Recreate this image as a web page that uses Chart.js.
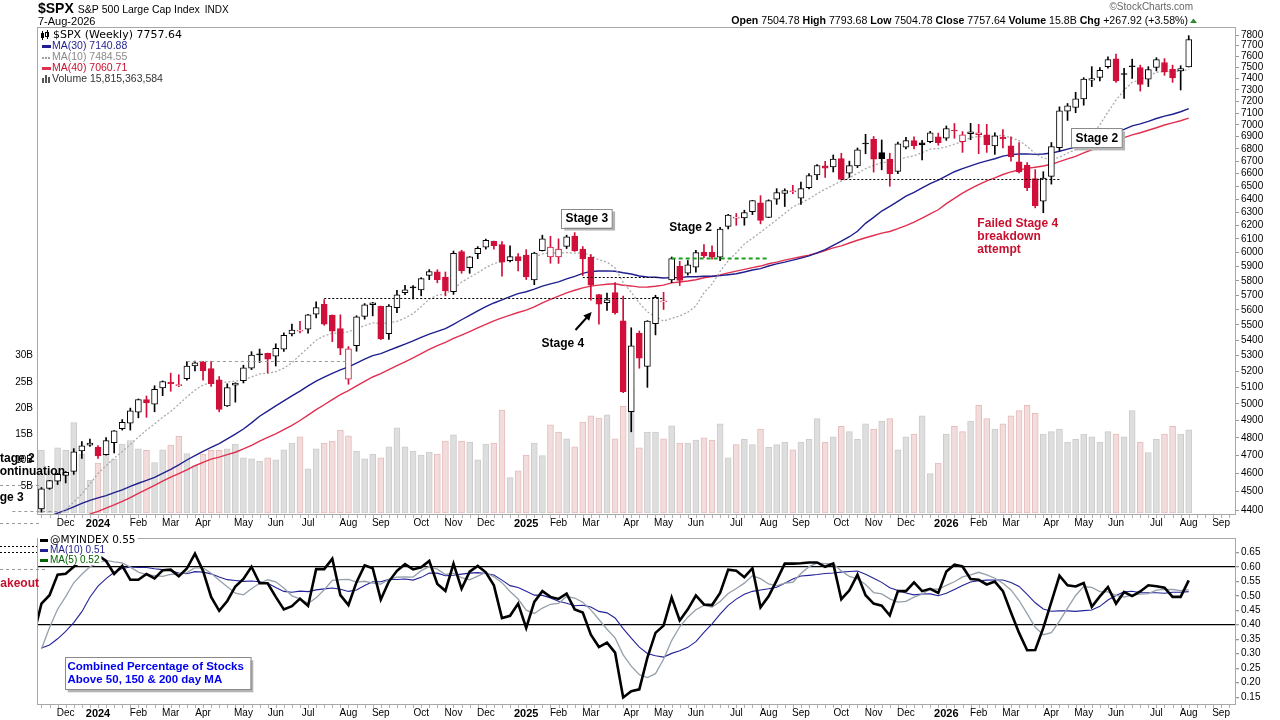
<!DOCTYPE html>
<html><head><meta charset="utf-8"><title>$SPX Weekly</title>
<script src="https://cdn.jsdelivr.net/npm/chart.js@4.4.1/dist/chart.umd.min.js"></script>
<style>
html,body{margin:0;padding:0;background:#fff;overflow:hidden;width:1280px;height:720px}
canvas{position:absolute;left:0}
#c1{top:0}
#c2{top:530px}
</style></head><body>
<canvas id="c1" width="1280" height="530"></canvas>
<canvas id="c2" width="1280" height="190"></canvas>
<script>
// ---------------- DATA ----------------
const firstWeekFriday = '2023-11-17';
const opens = [
4406,4516,4555,4587,4610,4725,4758,4745,4703,4772,
4853,4886,4950,5026,4998,5098,5132,5112,5154,5235,
5257,5218,5148,4988,5114,5142,5221,5305,5315,5297,
5341,5441,5459,5471,5572,5638,5565,5476,5151,5364,
5557,5636,5624,5442,5615,5718,5758,5737,5838,5863,
5826,5725,6008,5893,5992,6040,6083,6058,5942,5971,
5982,5806,6014,5969,5970,6046,6121,6026,5968,5705,
5650,5718,5527,4953,5445,5232,5508,5655,5807,5902,
5854,5896,6004,6005,5967,6193,6255,6256,6304,6371,
6260,6400,6445,6457,6408,6490,6590,6662,6654,6720,
6604,6662,6845,6879,6769,6717,6618,6813,6868,6850,
6860,6900,6887,6952,6860,6925,6917,6916,6824,6897,
6824,6694,6669,6560,6385,6578,6810,7116,7147,7222,
7387,7411,7507,7580,7440,7510,7500,7396,7500,7546,
7484,7470,7504.78];
const highs = [
4521,4560,4599,4609,4738,4778,4793,4755,4802,4842,
4907,4975,5030,5048,5111,5141,5189,5179,5262,5265,
5263,5264,5168,5123,5129,5239,5325,5342,5316,5376,
5447,5505,5523,5570,5655,5670,5566,5567,5358,5561,
5643,5651,5626,5637,5734,5768,5767,5822,5879,5878,
5862,6012,6018,5972,6044,6099,6085,6080,6049,5993,
6022,6003,6128,6120,6101,6128,6147,6044,5986,5707,
5715,5787,5695,5481,5460,5528,5700,5720,5969,5938,
5944,6017,6059,6050,6187,6284,6290,6315,6390,6427,
6395,6481,6480,6508,6533,6600,6672,6699,6750,6764,
6700,6807,6920,6902,6873,6764,6855,6895,6900,6870,
6945,6930,6990,7011,6943,7012,7004,7004,6933,6960,
6900,6851,6689,6632,6615,6852,7153,7182,7280,7409,
7508,7500,7597,7623,7494,7576,7522,7508,7590,7581,
7522,7517,7793.68];
const lows = [
4389,4511,4537,4546,4593,4682,4751,4682,4700,4714,
4845,4845,4917,4920,4953,5050,5077,5105,5146,5203,
5146,5107,4953,4985,5011,5128,5211,5256,5191,5234,
5327,5428,5447,5446,5547,5497,5390,5306,5120,5328,
5538,5560,5403,5404,5582,5704,5674,5696,5808,5786,
5696,5706,5853,5853,5957,6026,6025,5832,5933,5869,
5809,5773,6012,5924,5923,6030,6009,5837,5666,5505,
5597,5572,5069,4835,5220,5101,5434,5603,5787,5767,
5840,5861,5964,5953,5943,6174,6201,6202,6282,6212,
6259,6360,6343,6443,6360,6480,6551,6569,6613,6550,
6570,6648,6760,6612,6630,6500,6600,6800,6800,6709,
6850,6830,6870,6887,6771,6875,6761,6771,6755,6807,
6700,6605,6465,6333,6296,6517,6782,7037,7103,7167,
7330,7380,7494,7367,7227,7402,7290,7330,7470,7430,
7367,7300,7504.78];
const closes = [
4514,4559,4594,4604,4719,4754,4770,4697,4784,4840,
4891,4959,5027,5006,5089,5137,5124,5117,5234,5254,
5204,5123,4967,5100,5128,5223,5303,5305,5278,5347,
5431,5465,5460,5567,5615,5505,5459,5347,5344,5554,
5634,5648,5408,5626,5703,5738,5751,5815,5864,5808,
5729,5996,5871,5970,6032,6090,6051,5931,5971,5942,
5827,5997,6101,6041,6026,6115,6013,5955,5770,5639,
5668,5581,5074,5363,5283,5525,5686,5660,5958,5803,
5912,6000,5977,5968,6173,6279,6260,6297,6389,6238,
6389,6450,6467,6460,6482,6584,6664,6644,6716,6553,
6664,6792,6840,6716,6720,6599,6842,6868,6826,6832,
6933,6851,6969,6948,6916,6941,6933,6834,6908,6881,
6736,6613,6490,6349,6565,6819,7118,7162,7222,7396,
7402,7475,7573,7381,7437,7507,7348,7482,7573,7460,
7407,7489.72,7757.64];
// weekly volume, billions
const volumesB = [
11.9,8.0,12.4,11.9,17.2,11.2,6.2,9.5,11.2,10.2,
13.1,13.8,12.2,11.9,9.6,12.0,12.9,14.6,11.3,9.0,
11.2,11.9,11.9,12.2,13.1,10.5,10.3,9.8,10.5,10.1,
12.0,13.3,14.5,8.4,12.2,13.3,13.7,15.8,14.7,11.8,
10.3,11.2,10.5,12.6,16.2,12.6,11.8,11.0,11.6,11.2,
13.7,14.9,13.7,13.5,10.1,13.1,13.3,19.6,6.7,8.0,
11.0,13.3,10.9,16.8,15.4,14.1,12.6,17.3,18.5,18.1,
18.7,14.1,20.3,23.8,12.4,15.4,15.4,14.1,16.6,13.3,
13.3,13.9,14.3,13.9,17.0,10.5,13.0,14.0,13.0,16.0,
12.5,13.0,13.5,12.0,13.5,14.0,18.0,13.5,14.5,16.5,
15.5,14.0,17.0,16.0,17.5,18.0,12.0,14.5,15.0,18.5,
7.5,9.5,15.0,16.5,15.5,17.5,20.5,18.0,16.0,17.0,
18.5,19.5,20.5,19.0,15.0,15.5,16.0,13.5,14.0,15.0,
14.5,13.5,15.5,15.0,14.5,19.5,13.5,11.5,14.0,15.0,
16.5,15.0,15.815];
// closes of the 39 weeks before the first bar (for the moving averages)
const priorCloses = [4079,3970,4045,3861,3917,3971,4109,4105,4138,4133,
4169,4136,4124,4192,4205,4282,4299,4410,4348,4450,
4399,4505,4536,4582,4478,4464,4370,4406,4516,4457,
4450,4320,4288,4309,4327,4224,4117,4358,4415];
// @MYINDEX weekly values
const breadth = [
0.473,0.502,0.573,0.576,0.600,0.620,0.630,0.640,0.620,0.575,
0.603,0.555,0.555,0.575,0.560,0.588,0.590,0.567,0.594,0.645,
0.586,0.496,0.448,0.482,0.532,0.558,0.600,0.543,0.543,0.496,
0.453,0.464,0.490,0.465,0.592,0.592,0.628,0.502,0.468,0.547,
0.605,0.595,0.487,0.549,0.586,0.609,0.591,0.598,0.620,0.541,
0.517,0.611,0.524,0.583,0.603,0.581,0.536,0.423,0.431,0.473,
0.389,0.479,0.516,0.496,0.489,0.507,0.453,0.442,0.366,0.323,
0.338,0.304,0.149,0.171,0.177,0.287,0.372,0.397,0.494,0.415,
0.453,0.501,0.470,0.468,0.510,0.590,0.586,0.564,0.595,0.460,
0.498,0.553,0.611,0.611,0.612,0.615,0.615,0.600,0.611,0.488,
0.519,0.573,0.502,0.473,0.466,0.432,0.516,0.516,0.546,0.516,
0.524,0.510,0.584,0.607,0.601,0.558,0.555,0.539,0.549,0.516,
0.442,0.372,0.312,0.313,0.389,0.479,0.569,0.536,0.532,0.544,
0.462,0.498,0.530,0.473,0.513,0.499,0.515,0.536,0.533,0.528,
0.496,0.496,0.553];
const priorBreadth = [0.40,0.36,0.32,0.30,0.24,0.13,0.257,0.36,0.36];
// tick labels
const priceTicks = [4400,4500,4600,4700,4800,4900,5000,5100,5200,5300,5400,5500,5600,5700,5800,5900,6000,6100,6200,6300,6400,6500,6600,6700,6800,6900,7000,7100,7200,7300,7400,7500,7600,7700,7800];
const volumeTicks = [5,10,15,20,25,30];
const breadthTicks = [0.15,0.20,0.25,0.30,0.35,0.40,0.45,0.50,0.55,0.60,0.65];
const monthNames = ['Jan','Feb','Mar','Apr','May','Jun','Jul','Aug','Sep','Oct','Nov','Dec'];

// ---------------- helpers ----------------
const F = '"Liberation Sans", Arial, sans-serif';
const DV = '"DejaVu Sans", Verdana, sans-serif';
const RED = '#d0103a', NAVY = '#1f1f8f', MARED = '#e0304f';
const N = closes.length;
const LAST_SLOT = 147;
const XMIN = -0.55, XMAX = 147.85;
const DAY = 86400000;
const t0 = Date.parse(firstWeekFriday + 'T00:00:00Z');

function sma(prior, vals, n) {
  const all = prior.concat(vals);
  return vals.map((_, i) => {
    const k = i + prior.length; let s = 0;
    for (let j = k - n + 1; j <= k; j++) s += all[j];
    return s / n;
  });
}
const ma10 = sma(priorCloses, closes, 10);
const ma30 = sma(priorCloses, closes, 30);
const ma40 = sma(priorCloses, closes, 40);
const bMa5 = sma(priorBreadth, breadth, 5);
const bMa10 = sma(priorBreadth, breadth, 10);

const prevClose = i => i === 0 ? priorCloses[priorCloses.length - 1] : closes[i - 1];
const isUp = closes.map((c, i) => c >= prevClose(i));
const cColor = isUp.map(u => u ? '#000000' : RED);
const bodyFill = closes.map((c, i) => c > opens[i] ? '#ffffff' : cColor[i]);
const volFill = isUp.map(u => u ? '#dedede' : '#f2dcdc');
const volBorder = isUp.map(u => u ? '#cccccc' : '#e6bcbc');

// month labels: bar dated by its Monday for real weeks, by Friday for empty future slots
const monthTicks = [];
(function () {
  let prev = null;
  for (let i = 0; i <= LAST_SLOT; i++) {
    const fri = t0 + i * 7 * DAY;
    const d = new Date(i < N ? fri - 4 * DAY : fri);
    const m = d.getUTCMonth();
    if (prev !== null && m !== prev) monthTicks.push({ value: i, label: m === 0 ? String(d.getUTCFullYear()) : monthNames[m], year: m === 0 });
    prev = m;
  }
})();
const monthLabel = {}; const yearSet = new Set();
monthTicks.forEach(t => { monthLabel[t.value] = t.label; if (t.year) yearSet.add(t.value); });

const xScale = (h) => ({
  type: 'linear', min: XMIN, max: XMAX, offset: false, position: 'bottom',
  grid: { display: false, drawTicks: false }, border: { display: false },
  afterBuildTicks: s => { s.ticks = monthTicks.map(t => ({ value: t.value })); },
  ticks: {
    autoSkip: false, maxRotation: 0, minRotation: 0, padding: 2, color: '#000',
    font: ctx => (ctx.tick && yearSet.has(ctx.tick.value)) ? { family: F, size: 11, weight: 'bold' } : { family: F, size: 10 },
    callback: v => monthLabel[v] !== undefined ? monthLabel[v] : ''
  },
  afterFit: s => { s.height = h; }
});

// price: log scale, chart area 27..515 px
const PMIN = 4373.6, PMAX = 7875.6;
const VMIN = -0.42, VMAX = 92.71;
const BMIN = 0.1231, BMAX = 0.6993;

// annotations (index / price units)
const levelLines = [
  { from: 35, to: 77.1, price: 5682, color: '#000', dash: [2, 2], w: 1 },
  { from: 67, to: 76.5, price: 5827, color: '#000', dash: [2, 2], w: 1 },
  { from: 18, to: 38, price: 5265, color: '#999', dash: [3, 3], w: 1 },
  { from: 99, to: 126, price: 6560, color: '#000', dash: [2, 2], w: 1 },
  { from: 78, to: 90, price: 5960, color: '#1e9e1e', dash: [4, 3], w: 2 },
  { from: -3.6, to: 2.2, price: 4395, color: '#999', dash: [3, 3], w: 1 }
];
const notes = [
  { text: 'Stage 3', i: 64.85, p: 6256, box: true, color: '#000' },
  { text: 'Stage 4', i: 61.9, p: 5381, color: '#000' },
  { text: 'Stage 2', i: 77.7, p: 6188, color: '#000' },
  { text: 'Stage 2', i: 127.97, p: 6890, box: true, color: '#000' },
  { text: 'Failed Stage 4', i: 115.84, p: 6219, color: '#c8102e' },
  { text: 'breakdown', i: 115.84, p: 6122, color: '#c8102e' },
  { text: 'attempt', i: 115.84, p: 6027, color: '#c8102e' }
];
const arrow = { i0: 66.1, p0: 5466, i1: 68.1, p1: 5586 };

function weeklyTicks(chart) {
  const { ctx, chartArea: a } = chart; const x = chart.scales.x;
  ctx.save(); ctx.strokeStyle = '#b0b0b0'; ctx.lineWidth = 1; ctx.beginPath();
  for (let i = 0; i <= LAST_SLOT; i++) { const px = Math.round(x.getPixelForValue(i)) + 0.5; ctx.moveTo(px, a.bottom); ctx.lineTo(px, a.bottom + 3); }
  ctx.stroke();
  ctx.strokeStyle = '#a8a8a8';
  ctx.strokeRect(a.left + 0.5, a.top + 0.5, a.right - a.left - 1, a.bottom - a.top - 1);
  ctx.restore();
}
function boxed(ctx, x, yc, w, h) {
  ctx.fillStyle = '#b4b4b4'; ctx.fillRect(x + 3, yc - h / 2 + 3, w, h);
  ctx.fillStyle = '#fff'; ctx.fillRect(x, yc - h / 2, w, h);
  ctx.strokeStyle = '#8a8a8a'; ctx.lineWidth = 1; ctx.strokeRect(Math.round(x) + 0.5, Math.round(yc - h / 2) + 0.5, w, h);
}
function dashLine(ctx, x0, x1, y, color, dash, w) {
  ctx.save(); ctx.strokeStyle = color; ctx.lineWidth = w || 1; ctx.setLineDash(dash);
  ctx.beginPath(); ctx.moveTo(x0, y); ctx.lineTo(x1, y); ctx.stroke(); ctx.restore();
}

const topPlugin = {
  id: 'topDecor',
  afterDraw(chart) {
    const { ctx } = chart; const x = chart.scales.x, y = chart.scales.y;
    weeklyTicks(chart);
    ctx.save();
    levelLines.forEach(l => {
      const yy = Math.round(y.getPixelForValue(l.price)) + 0.5;
      dashLine(ctx, x.getPixelForValue(l.from), x.getPixelForValue(l.to), yy, l.color, l.dash, l.w);
    });
    dashLine(ctx, 0, 40, 485.5, '#999', [3, 3], 1);
    dashLine(ctx, 0, 40, 523.5, '#999', [3, 3], 1);
    // arrow
    const ax0 = x.getPixelForValue(arrow.i0), ay0 = y.getPixelForValue(arrow.p0);
    const ax1 = x.getPixelForValue(arrow.i1), ay1 = y.getPixelForValue(arrow.p1);
    const ang = Math.atan2(ay1 - ay0, ax1 - ax0);
    ctx.strokeStyle = '#000'; ctx.lineWidth = 2; ctx.beginPath(); ctx.moveTo(ax0, ay0);
    ctx.lineTo(ax1 - 5 * Math.cos(ang), ay1 - 5 * Math.sin(ang)); ctx.stroke();
    ctx.fillStyle = '#000'; ctx.beginPath(); ctx.moveTo(ax1, ay1);
    ctx.lineTo(ax1 - 9 * Math.cos(ang - 0.45), ay1 - 9 * Math.sin(ang - 0.45));
    ctx.lineTo(ax1 - 9 * Math.cos(ang + 0.45), ay1 - 9 * Math.sin(ang + 0.45)); ctx.closePath(); ctx.fill();
    // notes
    ctx.font = 'bold 12px ' + F; ctx.textBaseline = 'middle'; ctx.textAlign = 'left';
    notes.forEach(n => {
      const px = x.getPixelForValue(n.i), py = y.getPixelForValue(n.p);
      if (n.box) { const w = ctx.measureText(n.text).width + 8; boxed(ctx, px - 4, py, w, 19); }
      ctx.fillStyle = n.color; ctx.fillText(n.text, px, py + 0.5);
    });
    // left overflow labels (annotations cut off by the chart edge)
    ctx.fillStyle = '#000';
    ctx.fillText('Stage 2', -8, 459); ctx.fillText('continuation', -7, 472); ctx.fillText('Stage 3', -19, 498);
    // header
    ctx.textBaseline = 'middle';
    ctx.font = 'bold 14px ' + F; ctx.fillStyle = '#000'; ctx.fillText('$SPX', 38, 9);
    let hx = 38 + ctx.measureText('$SPX').width + 4;
    ctx.font = '10.5px ' + F; ctx.fillText('S&P 500 Large Cap Index', hx, 10);
    hx += ctx.measureText('S&P 500 Large Cap Index').width + 5;
    ctx.font = '10px ' + F; ctx.fillText('INDX', Math.max(203, hx), 10);
    ctx.font = '11px ' + F; ctx.fillText('7-Aug-2026', 38, 21.5);
    ctx.font = '10px ' + F; ctx.fillStyle = '#666'; ctx.textAlign = 'right'; ctx.fillText('\u00A9StockCharts.com', 1193, 7.5);
    const L = N - 1, chg = closes[L] - closes[L - 1];
    const parts = [['Open', 1], [' ' + opens[L].toFixed(2) + ' ', 0], ['High', 1], [' ' + highs[L].toFixed(2) + ' ', 0], ['Low', 1], [' ' + lows[L].toFixed(2) + ' ', 0],
      ['Close', 1], [' ' + closes[L].toFixed(2) + ' ', 0], ['Volume', 1], [' ' + volumesB[L].toFixed(1) + 'B ', 0], ['Chg', 1],
      [' ' + (chg >= 0 ? '+' : '') + chg.toFixed(2) + ' (' + (chg >= 0 ? '+' : '') + (chg / closes[L - 1] * 100).toFixed(2) + '%)', 0]];
    const hf = '10.6px ';
    let tw = 0; parts.forEach(p => { ctx.font = (p[1] ? 'bold ' : '') + hf + F; tw += ctx.measureText(p[0]).width; });
    let cx = 1188 - tw; ctx.textAlign = 'left'; ctx.fillStyle = '#000';
    parts.forEach(p => { ctx.font = (p[1] ? 'bold ' : '') + hf + F; ctx.fillText(p[0], cx, 21); cx += ctx.measureText(p[0]).width; });
    ctx.fillStyle = '#2e8b2e'; ctx.beginPath(); ctx.moveTo(1190, 23); ctx.lineTo(1197, 23); ctx.lineTo(1193.5, 18.5); ctx.closePath(); ctx.fill();
    // legend
    ctx.fillStyle = '#000';
    ctx.fillRect(42, 31, 1, 9); ctx.fillRect(41, 33, 3, 5); ctx.fillRect(47, 30, 1, 9); ctx.strokeStyle = '#000'; ctx.lineWidth = 1; ctx.strokeRect(45.5, 32.5, 3, 4);
    ctx.font = '11px ' + DV; ctx.fillText('$SPX (Weekly) 7757.64', 53, 35.5);
    const rows = [
      { y: 46, c: NAVY, tc: NAVY, t: 'MA(30) 7140.88', s: 'solid' },
      { y: 57, c: '#a0a0a0', tc: '#8a8a8a', t: 'MA(10) 7484.55', s: 'dot' },
      { y: 68, c: MARED, tc: '#c8102e', t: 'MA(40) 7060.71', s: 'solid' },
      { y: 79, c: '#555', tc: '#333', t: 'Volume 15,815,363,584', s: 'vol' }];
    ctx.font = '10.5px ' + F;
    rows.forEach(r => {
      ctx.fillStyle = r.c;
      if (r.s === 'solid') ctx.fillRect(42, r.y - 1, 9, 3);
      else if (r.s === 'dot') { ctx.fillRect(42, r.y, 2, 2); ctx.fillRect(45, r.y, 2, 2); ctx.fillRect(48, r.y, 2, 2); }
      else { ctx.fillRect(42, r.y - 1, 2, 5); ctx.fillRect(45, r.y - 4, 2, 8); ctx.fillRect(48, r.y - 2, 2, 6); }
      ctx.fillStyle = r.tc; ctx.fillText(r.t, 52, r.y + 0.5);
    });
    ctx.restore();
  }
};

const botPlugin = {
  id: 'botDecor',
  afterDraw(chart) {
    const { ctx } = chart;
    weeklyTicks(chart);
    ctx.save();
    dashLine(ctx, 0, 37, 16.5, '#000', [2, 2], 1);
    dashLine(ctx, 0, 37, 22.5, '#000', [2, 2], 1);
    dashLine(ctx, 0, 47, 39.5, '#999', [3, 3], 1);
    ctx.font = 'bold 12px ' + F; ctx.fillStyle = '#c8102e'; ctx.textBaseline = 'middle'; ctx.textAlign = 'left';
    ctx.fillText('Shakeout', -15, 54);
    // legend
    const rows = [
      { y: 10, c: '#000', t: '@MYINDEX 0.55', f: '10.5px ' + DV },
      { y: 20, c: NAVY, t: 'MA(10) 0.51', f: '10px ' + F },
      { y: 30, c: '#006400', t: 'MA(5) 0.52', f: '10px ' + F }];
    rows.forEach(r => {
      ctx.font = r.f; const w = ctx.measureText(r.t).width;
      ctx.fillStyle = '#fff'; ctx.fillRect(38, r.y - 5, w + 14, 10);
      ctx.fillStyle = r.c; ctx.fillRect(40, r.y - 1, 8, 3);
      ctx.fillText(r.t, 50, r.y + 0.5);
    });
    // text box
    const bx = 64.7, by = 127.3, bw = 185.6, bh = 32;
    boxed(ctx, bx, by + bh / 2, bw, bh);
    ctx.font = 'bold 11.5px ' + F; ctx.fillStyle = '#0000ee';
    ctx.fillText('Combined Percentage of Stocks', 67.5, 136.5);
    ctx.fillText('Above 50, 150 & 200 day MA', 67.5, 149.5);
    ctx.restore();
  }
};

// ---------------- CHARTS ----------------
Chart.defaults.font.family = F;
new Chart(document.getElementById('c1'), {
  type: 'bar',
  data: {
    datasets: [
      { type: 'bar', label: 'body', yAxisID: 'y', data: closes.map((c, i) => ({ x: i, y: [opens[i], c] })),
        backgroundColor: bodyFill, borderColor: cColor, borderWidth: 1, borderSkipped: false, barThickness: 6,
        grouped: false, minBarLength: 1, order: 0 },
      { type: 'bar', label: 'wick', yAxisID: 'y', data: closes.map((c, i) => ({ x: i, y: [lows[i], highs[i]] })),
        backgroundColor: cColor, borderWidth: 0, barThickness: 1, grouped: false, order: 1 },
      { type: 'line', label: 'MA10', yAxisID: 'y', data: ma10.map((v, i) => ({ x: i, y: v })), borderColor: '#aaaaaa',
        borderWidth: 1.3, borderDash: [2, 2], pointRadius: 0, tension: 0, order: 2 },
      { type: 'line', label: 'MA30', yAxisID: 'y', data: ma30.map((v, i) => ({ x: i, y: v })), borderColor: NAVY,
        borderWidth: 1.4, pointRadius: 0, tension: 0, order: 3 },
      { type: 'line', label: 'MA40', yAxisID: 'y', data: ma40.map((v, i) => ({ x: i, y: v })), borderColor: MARED,
        borderWidth: 1.4, pointRadius: 0, tension: 0, order: 4 },
      { type: 'bar', label: 'Volume', yAxisID: 'yv', data: volumesB.map((v, i) => ({ x: i, y: v })),
        backgroundColor: volFill, borderColor: volBorder, borderWidth: 1, borderSkipped: false, barThickness: 6, grouped: false, order: 10 }
    ]
  },
  options: {
    responsive: false, animation: false, events: [],
    layout: { padding: { top: 27, left: 0, right: 0, bottom: 0 } },
    plugins: { legend: { display: false }, tooltip: { enabled: false } },
    scales: {
      x: xScale(15),
      y: { type: 'logarithmic', position: 'right', min: PMIN, max: PMAX,
        afterBuildTicks: s => { s.ticks = priceTicks.map(v => ({ value: v })); },
        ticks: { autoSkip: false, padding: 2, color: '#000', font: { family: F, size: 10 }, callback: v => String(v) },
        grid: { drawOnChartArea: false, drawTicks: true, tickLength: 3, tickColor: '#999' }, border: { display: false },
        afterFit: s => { s.width = 44; } },
      yv: { type: 'linear', position: 'left', min: VMIN, max: VMAX,
        afterBuildTicks: s => { s.ticks = volumeTicks.map(v => ({ value: v })); },
        ticks: { autoSkip: false, padding: 4, color: '#000', font: { family: F, size: 10 }, callback: v => v + 'B' },
        grid: { display: false, drawTicks: false }, border: { display: false },
        afterFit: s => { s.width = 37; } }
    }
  },
  plugins: [topPlugin]
});

new Chart(document.getElementById('c2'), {
  type: 'line',
  data: {
    datasets: [
      { label: '@MYINDEX', data: [{ x: -1, y: priorBreadth[priorBreadth.length - 1] }].concat(breadth.map((v, i) => ({ x: i, y: v }))),
        borderColor: '#000', borderWidth: 2.6, pointRadius: 0, tension: 0, order: 0 },
      { label: 'MA5', data: bMa5.map((v, i) => ({ x: i, y: v })), borderColor: '#95a0aa', borderWidth: 1.3, pointRadius: 0, tension: 0, order: 1 },
      { label: 'MA10', data: bMa10.map((v, i) => ({ x: i, y: v })), borderColor: '#22229a', borderWidth: 1.1, pointRadius: 0, tension: 0, order: 2 }
    ]
  },
  options: {
    responsive: false, animation: false, events: [],
    layout: { padding: { top: 5, left: 37, right: 0, bottom: 0 } },
    plugins: { legend: { display: false }, tooltip: { enabled: false } },
    scales: {
      x: xScale(15),
      y: { type: 'linear', position: 'right', min: BMIN, max: BMAX,
        afterBuildTicks: s => { s.ticks = breadthTicks.map(v => ({ value: v })); },
        ticks: { autoSkip: false, padding: 2, color: '#000', font: { family: F, size: 10 }, callback: v => Number(v).toFixed(2) },
        grid: { drawOnChartArea: true, drawTicks: true, tickLength: 3, tickColor: '#999',
          color: ctx => (ctx.tick && (Math.abs(ctx.tick.value - 0.6) < 1e-6 || Math.abs(ctx.tick.value - 0.4) < 1e-6)) ? '#000' : 'rgba(0,0,0,0)',
          lineWidth: 1.3 },
        border: { display: false },
        afterFit: s => { s.width = 44; } }
    }
  },
  plugins: [botPlugin]
});
</script></body></html>
